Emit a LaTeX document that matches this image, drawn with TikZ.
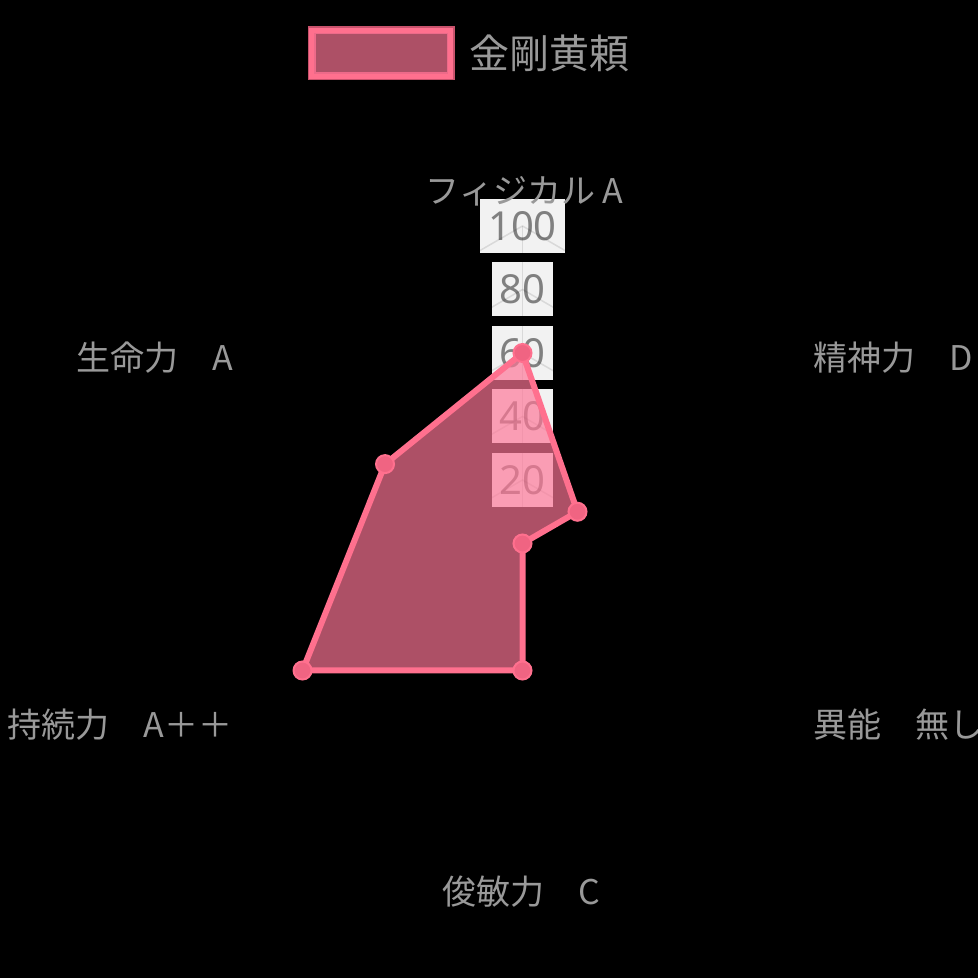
\documentclass[tikz,border=0pt]{standalone}
\usepackage{fontspec}
\setmainfont{Noto Sans CJK JP}
\newfontfamily\numfont{Noto Sans}
\usepackage{tikz}
\usetikzlibrary{positioning}
\definecolor{labelgray}{RGB}{153,153,153}
\definecolor{tickgray}{RGB}{128,128,128}
\definecolor{backdrop}{RGB}{242,242,242}
\definecolor{linepink}{RGB}{255,112,142}
\definecolor{areafill}{RGB}{255,118,151}
\definecolor{pointfill}{RGB}{240,100,130}
\definecolor{legedge}{RGB}{200,82,108}

\begin{document}
\begin{tikzpicture}[x=1pt,y=1pt,
  every node/.style={inner sep=0pt, outer sep=0pt},
  axislabel/.style={text=labelgray, font=\fontsize{34}{40}\selectfont},
  tickbox/.style={fill=backdrop, text=tickgray, font=\numfont\fontsize{40}{48}\selectfont,
    minimum height=54pt, inner xsep=8pt},
  gridline/.style={black, opacity=.1, line width=1.5pt},
  area/.style={fill=areafill, fill opacity=.68, draw=linepink, line width=6pt, line join=round},
  datapoint/.style={circle, fill=pointfill, draw=linepink, line width=2pt, minimum size=18pt},
  legbox/.style={fill=areafill, fill opacity=.68, draw=linepink, line width=5pt,
    minimum width=139pt, minimum height=46pt, preaction={draw=legedge, line width=8pt}},
  legtext/.style={text=labelgray, font=\fontsize{40}{48}\selectfont}]
\fill[black] (0,0) rectangle (978,978);
\useasboundingbox (0,0) rectangle (978,978);

% Legend
\node[legbox] (legbox) at (381,924.5) {};
\node[legtext, right=19pt of legbox] (legname) {金剛黄頼};

\begin{scope}[shift={(522.5,434.5)}]
\coordinate (c) at (0,0);

% Tick labels bottom to top
\node[tickbox] (t20) at (0,63.5) {20};
\node[tickbox] (t40) at (0,127) {40};
\node[tickbox] (t60) at (0,190.5) {60};
\node[tickbox] (t80) at (0,254) {80};
\node[tickbox] (t100) at (0,317.5) {100};

% Grid
\draw[gridline] (90:63.5) -- (30:63.5) -- (-30:63.5) -- (-90:63.5) -- (-150:63.5) -- (150:63.5) -- cycle;
\draw[gridline] (90:127) -- (30:127) -- (-30:127) -- (-90:127) -- (-150:127) -- (150:127) -- cycle;
\draw[gridline] (90:190.5) -- (30:190.5) -- (-30:190.5) -- (-90:190.5) -- (-150:190.5) -- (150:190.5) -- cycle;
\draw[gridline] (90:254) -- (30:254) -- (-30:254) -- (-90:254) -- (-150:254) -- (150:254) -- cycle;
\draw[gridline] (90:317.5) -- (30:317.5) -- (-30:317.5) -- (-90:317.5) -- (-150:317.5) -- (150:317.5) -- cycle;
\draw[gridline] (c) -- (90:317.5);
\draw[gridline] (c) -- (30:317.5);
\draw[gridline] (c) -- (-30:317.5);
\draw[gridline] (c) -- (-90:317.5);
\draw[gridline] (c) -- (-150:317.5);
\draw[gridline] (c) -- (150:317.5);

% Axis labels clockwise from top
\node[axislabel] (lphys) at (2,352) {フィジカル A};
\node[axislabel, anchor=west] (lmind) at (290.5,185.5) {精神力　D};
\node[axislabel, anchor=west] (labil) at (290.5,-181.5) {異能　無し};
\node[axislabel] (lagil) at (-1.5,-348.5) {俊敏力　C};
\node[axislabel, anchor=east] (lendu) at (-290,-181.5) {持続力　A＋＋};
\node[axislabel, anchor=east] (llife) at (-289.5,185.5) {生命力　A};

% Data values 60, 20, 0, 40, 80, 50
\coordinate (phys) at (90:190.5);
\coordinate (mind) at (30:63.5);
\coordinate (abil) at (c);
\coordinate (agil) at (-90:127);
\coordinate (endu) at (-150:254);
\coordinate (life) at (150:158.75);

% Draw area in pink
\filldraw[area] (phys) -- (mind) -- (abil) -- (agil) -- (endu) -- (life) -- cycle;
\node[datapoint] (pphys) at (phys) {};
\node[datapoint] (pmind) at (mind) {};
\node[datapoint] (pabil) at (abil) {};
\node[datapoint] (pagil) at (agil) {};
\node[datapoint] (pendu) at (endu) {};
\node[datapoint] (plife) at (life) {};
\end{scope}
\end{tikzpicture}
\end{document}
